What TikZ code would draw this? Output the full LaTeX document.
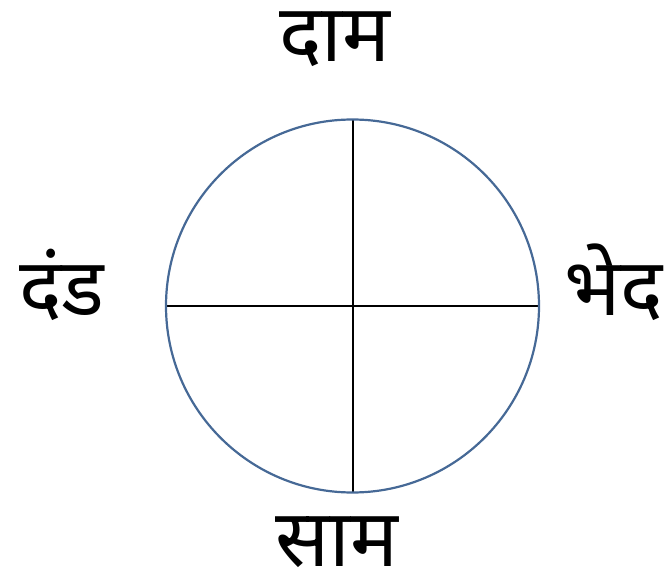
\documentclass[tikz,border=0pt]{standalone}
\usepackage{fontspec}
\newfontfamily\deva[Script=Devanagari]{Noto Sans}
\definecolor{ringblue}{RGB}{70,105,150}
\begin{document}
\begin{tikzpicture}[x=1pt,y=-1pt,
  lbl/.style={font=\deva\fontsize{80}{84}\selectfont, inner sep=0pt, anchor=base},
  axis/.style={draw=black, line width=2pt}]
\useasboundingbox (0,0) rectangle (664,575);
\coordinate (c) at (352.5,306);
\coordinate (n) at (352.5,119.5);
\coordinate (s) at (352.5,492.5);
\coordinate (w) at (166,306);
\coordinate (e) at (539,306);
\draw[axis] (n) -- (s);
\draw[axis] (w) -- (e);
\draw[draw=ringblue, line width=2.2pt] (c) circle[radius=186.5];
\node[lbl] (top) at (335,62) {दाम};
\node[lbl] (left) at (62,315) {दंड};
\node[lbl] (right) at (614,315) {भेद};
\node[lbl, text depth=0pt] (bottom) at (337,566) {साम};
\end{tikzpicture}
\end{document}
